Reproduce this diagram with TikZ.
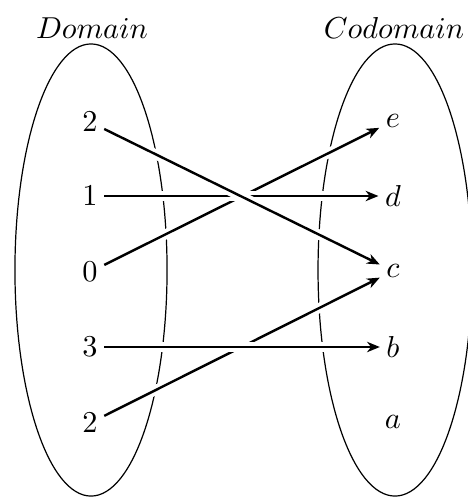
\documentclass[tikz,border=0pt]{standalone}
\usetikzlibrary{arrows.meta}
\begin{document}
\begin{tikzpicture}[x=0.33pt,y=-0.33pt,
  elem/.style={inner sep=2pt},
  setlabel/.style={inner sep=0pt},
  mapto/.style={thick,-{Stealth[length=4.2pt,width=3.4pt,inset=1.3pt]},
    preaction={draw=white,line width=3.3pt,-,shorten >=3pt,shorten <=3pt}},
  setline/.style={line width=0.4pt}]
\useasboundingbox (0,0) rectangle (467,497);
% sets
\draw[setline] (91,270) ellipse [x radius=25.1pt, y radius=74.6pt];
\draw[setline] (395,270) ellipse [x radius=25.4pt, y radius=74.6pt];
\node[setlabel] (dom) at (92,28) {$Domain$};
\node[setlabel] (cod) at (394,28) {$Codomain$};
% domain elements
\node[elem] (x1) at (90,122) {$2$};
\node[elem] (x2) at (90,196) {$1$};
\node[elem] (x3) at (90,272) {$0$};
\node[elem] (x4) at (90,347) {$3$};
\node[elem] (x5) at (90,423) {$2$};
% codomain elements
\node[elem] (e) at (393,121) {$e$};
\node[elem] (d) at (393,196) {$d$};
\node[elem] (c) at (393,271) {$c$};
\node[elem] (b) at (393,347) {$b$};
\node[elem] (a) at (393,422) {$a$};
% mapping
\draw[mapto] (x3) -- (e);
\draw[mapto] (x2) -- (d);
\draw[mapto] (x1) -- (c);
\draw[mapto] (x5) -- (c);
\draw[mapto] (x4) -- (b);
\end{tikzpicture}
\end{document}
